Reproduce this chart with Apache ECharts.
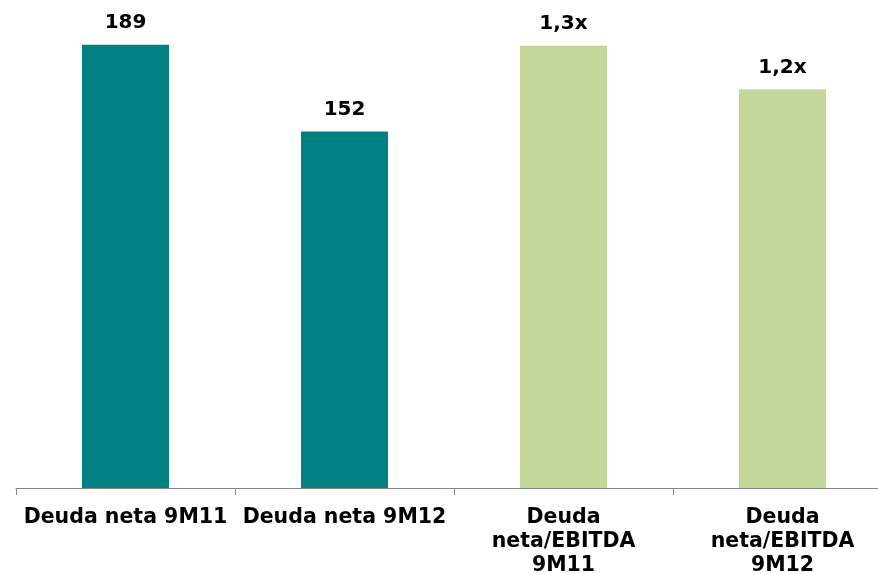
<!DOCTYPE html>
<html>
<head>
<meta charset="utf-8">
<script src="https://cdn.jsdelivr.net/npm/echarts@6/dist/echarts.min.js"></script>
<style>
  html, body { margin: 0; padding: 0; background: #fff; }
  #chart { width: 878px; height: 574px; }
</style>
</head>
<body>
<div id="chart"></div>
<script>
// categorias
var categories = ['Deuda neta 9M11', 'Deuda neta 9M12', 'Deuda\nneta/EBITDA\n9M11', 'Deuda\nneta/EBITDA\n9M12'];
// deuda neta (eje izquierdo)
var deudaNeta = [189, 152, '-', '-'];
// deuda neta / EBITDA (eje derecho)
var deudaEbitda = ['-', '-', 1.32, 1.19];

var myChart = echarts.init(document.getElementById('chart'));

var labelFont = { fontFamily: 'DejaVu Sans', fontWeight: 'bold', fontSize: 20, color: '#000' };

var option = {
    animation: false,
    grid: { left: 16, right: -14, top: 19, bottom: 86, outerBoundsMode: 'none', containLabel: false },
    xAxis: {
        type: 'category',
        data: categories,
        axisLine: { lineStyle: { color: '#888', width: 1 } },
        axisTick: { show: true, length: 7, lineStyle: { color: '#888' } },
        axisLabel: {
            interval: 0,
            margin: 18,
            fontFamily: 'DejaVu Sans',
            fontWeight: 'bold',
            fontSize: 20.5,
            lineHeight: 24,
            color: '#000'
        }
    },
    yAxis: [
        { type: 'value', min: 0, max: 200, show: false },
        { type: 'value', min: 0, max: 1.4, show: false }
    ],
    series: [
        {
            name: 'Deuda neta',
            type: 'bar',
            yAxisIndex: 0,
            barWidth: 87,
            barGap: '-100%',
            itemStyle: { color: '#008080' },
            label: {
                show: true, position: 'top', distance: 12,
                fontFamily: labelFont.fontFamily, fontWeight: labelFont.fontWeight,
                fontSize: labelFont.fontSize, color: labelFont.color
            },
            data: deudaNeta
        },
        {
            name: 'Deuda neta/EBITDA',
            type: 'bar',
            yAxisIndex: 1,
            barWidth: 87,
            barGap: '-100%',
            itemStyle: { color: '#c4d79b' },
            label: {
                show: true, position: 'top', distance: 12,
                fontFamily: labelFont.fontFamily, fontWeight: labelFont.fontWeight,
                fontSize: labelFont.fontSize, color: labelFont.color,
                formatter: function (p) { return p.value.toFixed(1).replace('.', ',') + 'x'; }
            },
            data: deudaEbitda
        }
    ]
};

myChart.setOption(option);
</script>
</body>
</html>
